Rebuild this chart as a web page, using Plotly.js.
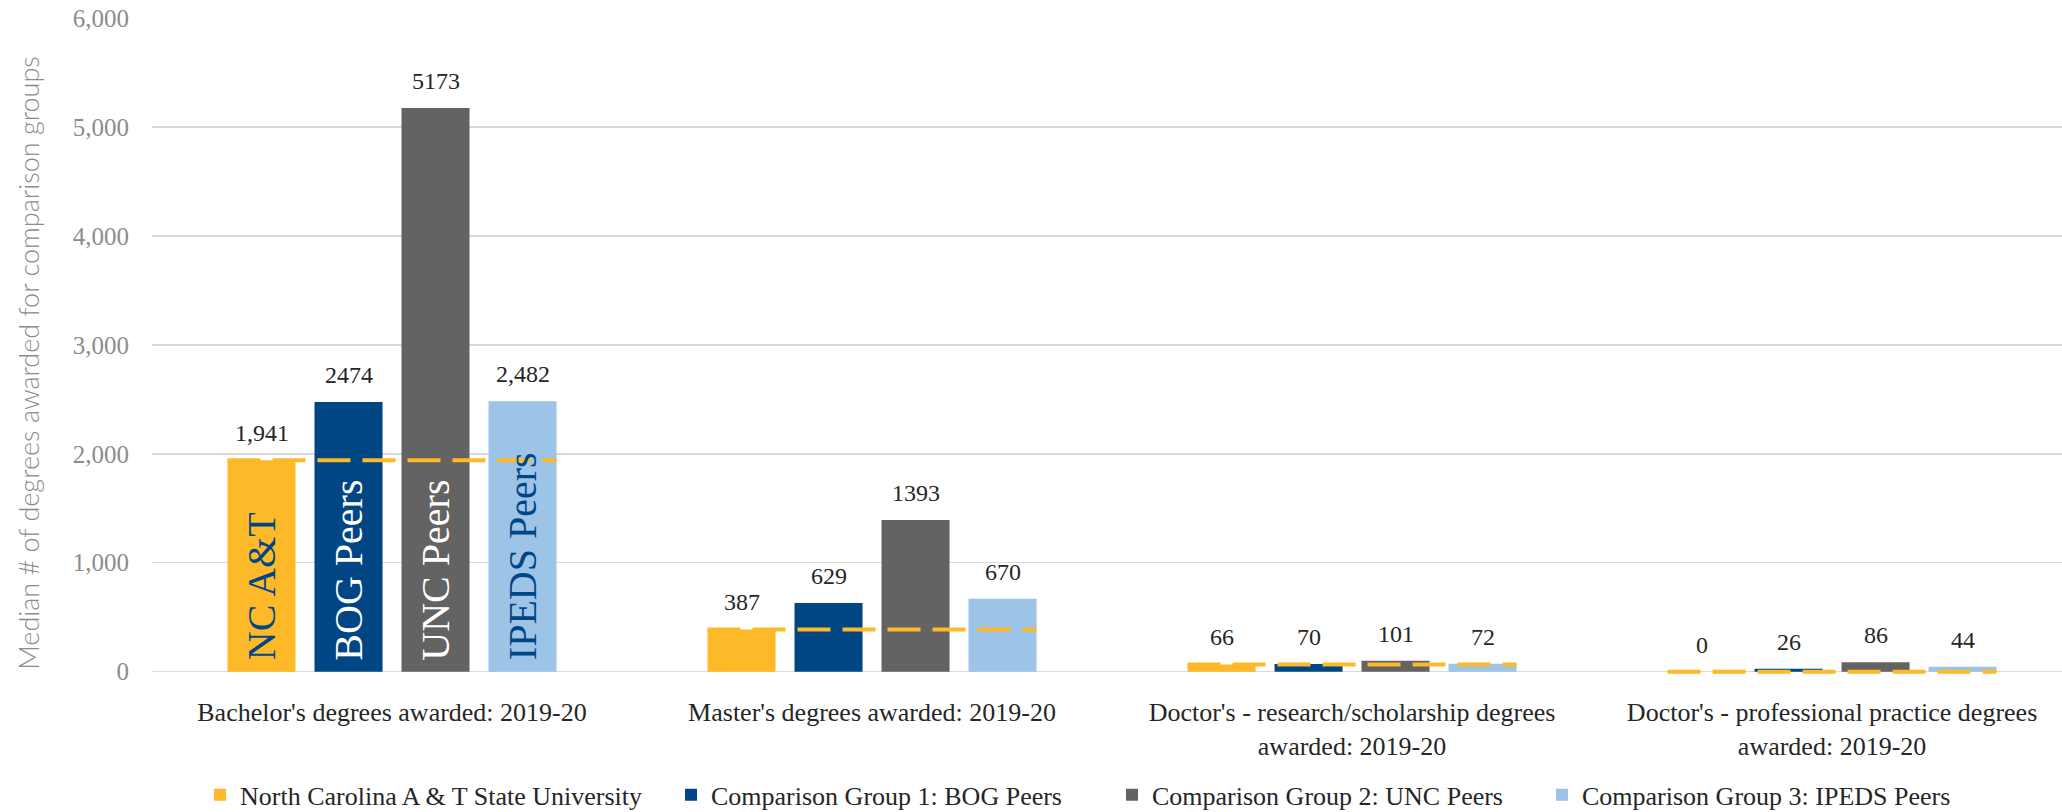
<!DOCTYPE html>
<html>
<head>
<meta charset="utf-8">
<script src="https://cdn.plot.ly/plotly-3.0.1.min.js"></script>
<style>
  html, body { margin: 0; padding: 0; background: #ffffff; }
  #chart { width: 2062px; height: 812px; }
</style>
</head>
<body>
<div id="chart"></div>
<script>
// ---- data ----
const categories = [
  "Bachelor's degrees awarded: 2019-20",
  "Master's degrees awarded: 2019-20",
  "Doctor's - research/scholarship degrees<br>awarded: 2019-20",
  "Doctor's - professional practice degrees<br>awarded: 2019-20"
];
const seriesNames = [
  "North Carolina A & T State University",
  "Comparison Group 1: BOG Peers",
  "Comparison Group 2: UNC Peers",
  "Comparison Group 3: IPEDS Peers"
];
const ncatValues  = [1941, 387, 66, 0];
const bogValues   = [2474, 629, 70, 26];
const uncValues   = [5173, 1393, 101, 86];
const ipedsValues = [2482, 670, 72, 44];
const ncatLabels  = ["1,941", "387", "66", "0"];
const bogLabels   = ["2474", "629", "70", "26"];
const uncLabels   = ["5173", "1393", "101", "86"];
const ipedsLabels = ["2,482", "670", "72", "44"];
const insideLabels = ["NC A&T", "BOG Peers", "UNC Peers", "IPEDS Peers"];
const yTickValues = [0, 1000, 2000, 3000, 4000, 5000, 6000];
const yTitle = "Median # of degrees awarded for comparison groups";

// ---- styles ----
const colors = ["#FDB927", "#004684", "#636363", "#9DC3E6"];
const insideColors = ["#004684", "#ffffff", "#ffffff", "#004684"];
const legendWidths = [426, 396, 385, 0];
const SERIF = "Liberation Serif, Times New Roman, serif";
const TEXT = "#262626";
const BARGAP = 0.275, GROUPGAP = 0.218;
const slot = (1 - BARGAP) / 4;
const barW = slot * (1 - GROUPGAP);

const allValues = [ncatValues, bogValues, uncValues, ipedsValues];
const allLabels = [ncatLabels, bogLabels, uncLabels, ipedsLabels];

const traces = allValues.map((vals, k) => {
  const t = {
    type: 'bar',
    name: seriesNames[k],
    x: categories,
    y: vals,
    marker: { color: colors[k], line: { width: 0 } },
    hoverinfo: 'y+name'
  };
  if (legendWidths[k]) t.legendwidth = legendWidths[k];
  return t;
});

const annotations = [];
allValues.forEach((vals, k) => {
  const off = (k - 1.5) * slot;
  vals.forEach((v, i) => {
    annotations.push({
      xref: 'x', yref: 'y', x: i + off, y: v,
      text: allLabels[k][i], showarrow: false,
      xanchor: 'center', yanchor: 'middle', yshift: 27,
      font: { family: SERIF, size: 24, color: TEXT }
    });
  });
});
insideLabels.forEach((t, k) => {
  annotations.push({
    xref: 'x', yref: 'y', x: 0 + (k - 1.5) * slot, y: 0,
    text: t, showarrow: false, textangle: -90,
    xanchor: 'center', yanchor: 'bottom', yshift: 9,
    font: { family: SERIF, size: 40, color: insideColors[k] }
  });
});
// y-axis title
annotations.push({
  xref: 'paper', yref: 'paper', x: -0.0644, y: 0.476,
  text: yTitle, showarrow: false, textangle: -90,
  xanchor: 'center', yanchor: 'middle',
  font: { family: 'Lato, Noto Sans, sans-serif', size: 27, weight: 300, color: '#8c8c8c' }
});

const half = 1.5 * slot + barW / 2;
const shapes = ncatValues.map((v, i) => ({
  type: 'line', xref: 'x', yref: 'y',
  x0: i - half, x1: i + half, y0: v, y1: v,
  line: { color: '#FDB927', width: 4, dash: '33px,12px' },
  layer: 'above'
}));

const layout = {
  width: 2062, height: 812,
  margin: { l: 152, r: 0, t: 18, b: 136 },
  paper_bgcolor: '#ffffff', plot_bgcolor: '#ffffff',
  barmode: 'group', bargap: BARGAP, bargroupgap: GROUPGAP,
  showlegend: true,
  legend: {
    orientation: 'h',
    xref: 'container', yref: 'container',
    x: 0.097, xanchor: 'left', y: 0.021, yanchor: 'middle',
    font: { family: SERIF, size: 26, color: TEXT },
    traceorder: 'normal'
  },
  xaxis: {
    type: 'category',
    range: [-0.5, 3.479],
    showgrid: false, zeroline: false, showline: false,
    ticks: '', ticklabelstandoff: 18,
    tickfont: { family: SERIF, size: 26, color: TEXT }
  },
  yaxis: {
    range: [-40, 6000],
    tickvals: yTickValues, tickformat: ',d',
    showgrid: true, gridcolor: '#d9d9d9', gridwidth: 1.5,
    zeroline: true, zerolinecolor: '#d9d9d9', zerolinewidth: 1.5,
    showline: false, ticks: '', ticklabelstandoff: 22,
    tickfont: { family: SERIF, size: 25, color: '#8c8c8c' }
  },
  annotations: annotations,
  shapes: shapes
};

Plotly.newPlot('chart', traces, layout, { staticPlot: true, displayModeBar: false });
</script>
</body>
</html>
